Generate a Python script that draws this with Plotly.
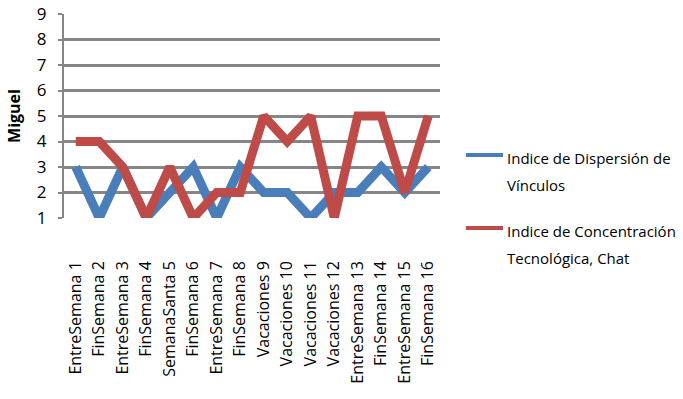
import plotly.graph_objects as go

categories = ["EntreSemana 1", "FinSemana 2", "EntreSemana 3", "FinSemana 4",
              "SemanaSanta 5", "FinSemana 6", "EntreSemana 7", "FinSemana 8",
              "Vacaciones 9", "Vacaciones 10", "Vacaciones 11", "Vacaciones 12",
              "EntreSemana 13", "FinSemana 14", "EntreSemana 15", "FinSemana 16"]
dispersion = [3, 1, 3, 1, 2, 3, 1, 3, 2, 2, 1, 2, 2, 3, 2, 3]
concentracion = [4, 4, 3, 1, 3, 1, 2, 2, 5, 4, 5, 1, 5, 5, 2, 5]
y_ticks = [1, 2, 3, 4, 5, 6, 7, 8, 9]

series_names = [
    ["Indice de Dispersión de", "Vínculos"],
    ["Indice de Concentración", "Tecnológica, Chat"],
]
series_colors = ["#4A7EBB", "#BE4B48"]

FONT = "Open Sans, Liberation Sans, sans-serif"
W, H = 683, 399

fig = go.Figure()
for vals, name, color in zip([dispersion, concentracion], series_names, series_colors):
    fig.add_trace(go.Scatter(
        x=categories, y=vals, mode="lines",
        name=" ".join(name), showlegend=False,
        line=dict(color=color, width=9),
    ))

# legend drawn by hand so each entry can have two widely spaced lines
legend_rows = [158, 231]
for (line1, line2), color, yc in zip(series_names, series_colors, legend_rows):
    fig.add_shape(type="line", xref="paper", yref="paper",
                  x0=(466 - 64) / (440 - 64), x1=(503 - 64) / (440 - 64),
                  y0=(218 - yc + 3) / (218 - 14), y1=(218 - yc + 3) / (218 - 14),
                  line=dict(color=color, width=4))
    for k, txt in enumerate([line1, line2]):
        fig.add_annotation(
            text=txt, xref="paper", yref="paper",
            x=(505 - 64) / (440 - 64), y=(218 - (yc + 27 * k)) / (218 - 14),
            xanchor="left", yanchor="middle", showarrow=False,
            font=dict(size=15, family=FONT, color="black"),
        )

fig.update_layout(
    width=W, height=H,
    margin=dict(l=64, r=W - 440, t=14, b=H - 218, autoexpand=False),
    paper_bgcolor="white", plot_bgcolor="white",
    font=dict(family=FONT, color="black"),
    showlegend=False,
    xaxis=dict(
        type="category", range=[-0.5, 15.5],
        tickangle=-90, tickfont=dict(size=16, family=FONT),
        ticklabelstandoff=39,
        showgrid=False, showline=False, ticks="", automargin=False,
    ),
    yaxis=dict(
        range=[1, 9], tickvals=y_ticks,
        tickfont=dict(size=17),
        ticklabelstandoff=8,
        showgrid=True, gridcolor="#868686", gridwidth=3,
        showline=True, linecolor="#868686", linewidth=2,
        ticks="outside", ticklen=4, tickcolor="#868686", tickwidth=2,
        zeroline=False, automargin=False,
        title=dict(text="<b>Miguel</b>", font=dict(size=16), standoff=12),
    ),
)

fig.write_html("out.html")
